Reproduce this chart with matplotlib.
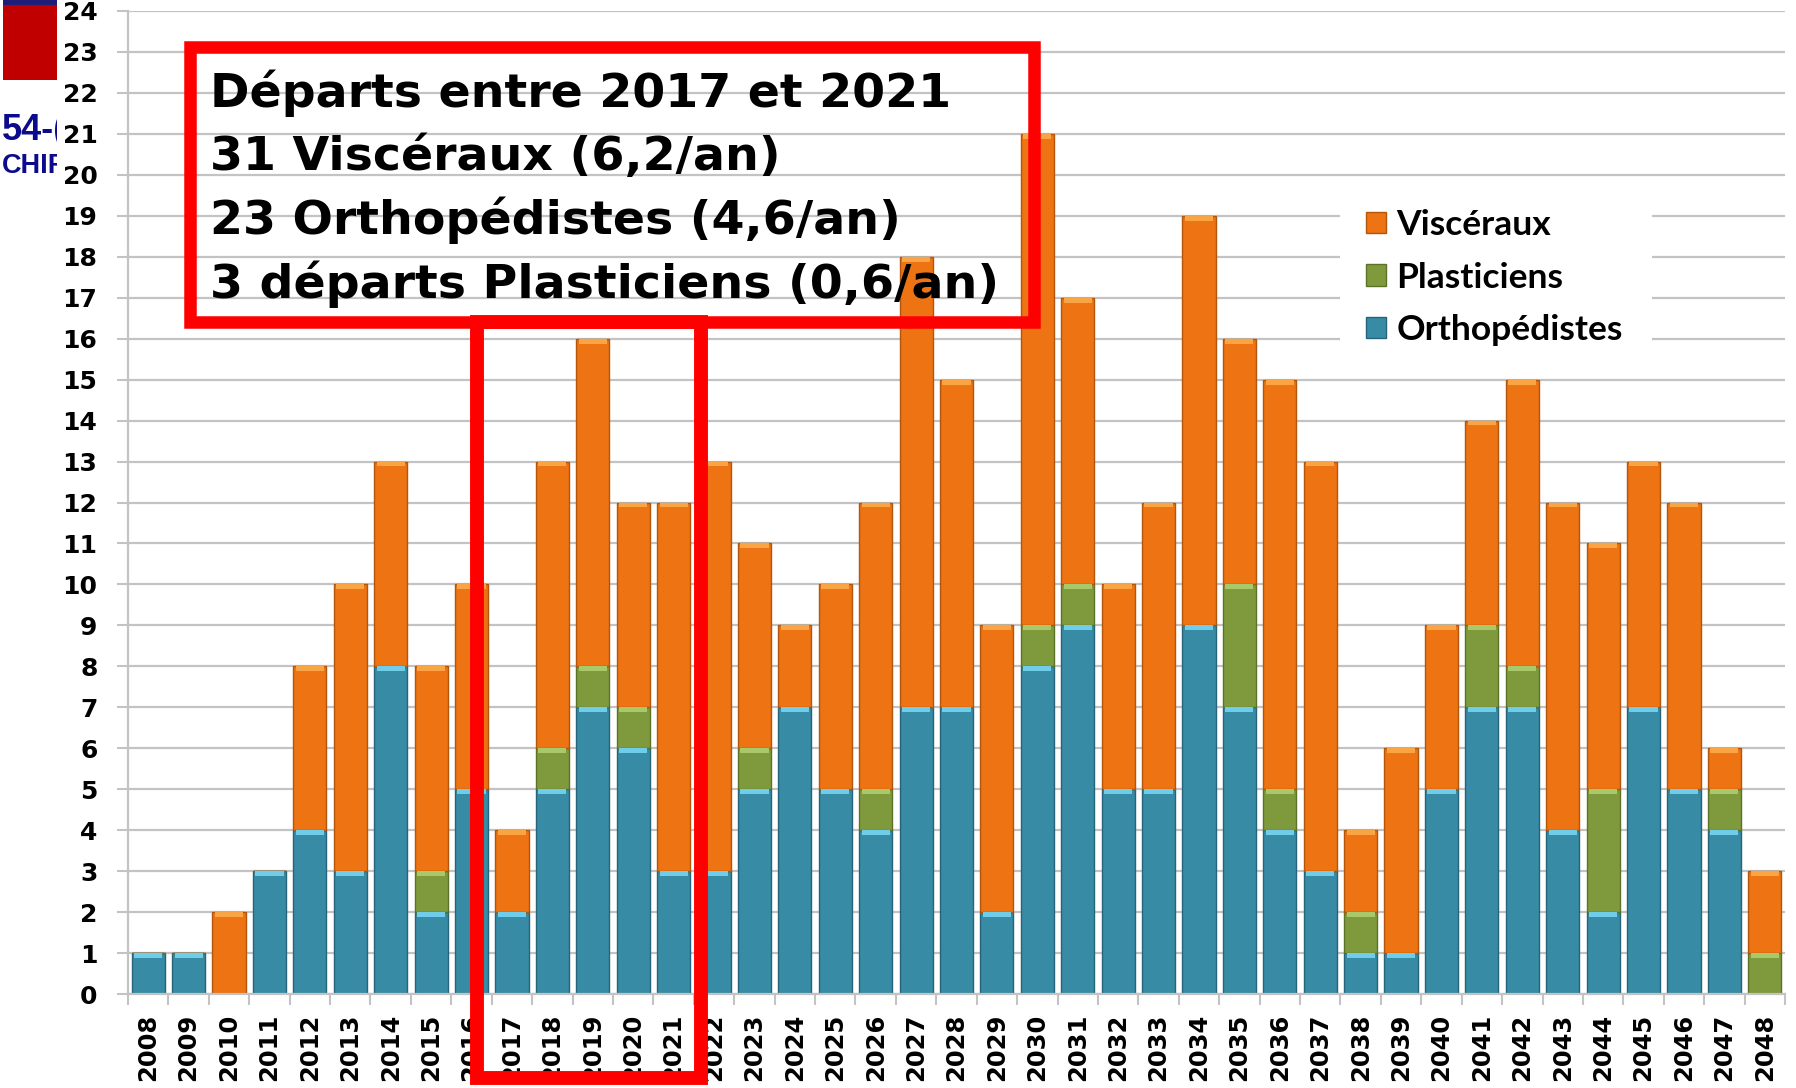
import matplotlib
matplotlib.use("Agg")
import matplotlib.pyplot as plt
from matplotlib.patches import Rectangle, Patch
from matplotlib.transforms import Bbox
import numpy as np

# ---------------- data ----------------
years = [str(y) for y in range(2008, 2049)]
orthopedistes = [1, 1, 0, 3, 4, 3, 8, 2, 5, 2, 5, 7, 6, 3, 3, 5, 7, 5, 4, 7, 7,
                 2, 8, 9, 5, 5, 9, 7, 4, 3, 1, 1, 5, 7, 7, 4, 2, 7, 5, 4, 0]
plasticiens = [0, 0, 0, 0, 0, 0, 0, 1, 0, 0, 1, 1, 1, 0, 0, 1, 0, 0, 1, 0, 0,
               0, 1, 1, 0, 0, 0, 3, 1, 0, 1, 0, 0, 2, 1, 0, 3, 0, 0, 1, 1]
visceraux = [0, 0, 2, 0, 4, 7, 5, 5, 5, 2, 7, 8, 5, 9, 10, 5, 2, 5, 7, 11, 8,
             7, 12, 7, 5, 7, 10, 6, 10, 10, 2, 5, 4, 5, 7, 8, 6, 6, 7, 1, 2]
series_names = ["Viscéraux", "Plasticiens", "Orthopédistes"]
y_ticks = list(range(0, 25))
annotation_lines = ["Départs entre 2017 et 2021",
                    "31 Viscéraux (6,2/an)",
                    "23 Orthopédistes (4,6/an)",
                    "3 départs Plasticiens (0,6/an)"]

# ---------------- style ----------------
W, H = 1796, 1088
C_ORTHO, C_ORTHO_E, C_ORTHO_CAP = "#388BA5", "#25647A", "#6FCDEA"
C_PLAST, C_PLAST_E, C_PLAST_CAP = "#7E9A3C", "#5B7228", "#A9C86A"
C_VISC, C_VISC_E, C_VISC_CAP = "#EE7313", "#B3560B", "#F9A445"
GRID = "#C3C3C3"
RED = "#FF0000"


def fx(px):
    return px / W


def fy(py):
    return 1 - py / H


fig = plt.figure(figsize=(W / 100, H / 100), dpi=100)
fig.patch.set_facecolor("white")

ax_left, ax_right, ax_top, ax_bottom = 128, 1785, 11, 994
ax = fig.add_axes([fx(ax_left), fy(ax_bottom), (ax_right - ax_left) / W,
                   (ax_bottom - ax_top) / H])
ax.set_axisbelow(True)

x = np.arange(len(years))
o = np.array(orthopedistes, dtype=float)
p = np.array(plasticiens, dtype=float)
v = np.array(visceraux, dtype=float)
bw = 0.82
cap = 0.12

segments = [
    (o, np.zeros_like(o), C_ORTHO, C_ORTHO_E, C_ORTHO_CAP, series_names[2]),
    (p, o, C_PLAST, C_PLAST_E, C_PLAST_CAP, series_names[1]),
    (v, o + p, C_VISC, C_VISC_E, C_VISC_CAP, series_names[0]),
]
for vals, base, col, ecol, capcol, name in segments:
    ax.bar(x, vals, bw, bottom=base, color=col, edgecolor=ecol, linewidth=1.0,
           zorder=2)
    mask = vals > 0
    ax.bar(x[mask], np.full(mask.sum(), cap), bw * 0.85,
           bottom=(base + vals)[mask] - cap, color=capcol, linewidth=0,
           zorder=2.5)

ax.set_xlim(-0.5, len(years) - 0.5)
ax.set_ylim(0, 24)

# grid and ticks
ax.yaxis.grid(True, color=GRID, linewidth=1.6)
ax.set_yticks(y_ticks)
ax.set_yticklabels([str(t) for t in y_ticks], fontsize=18, fontweight="bold",
                   family="DejaVu Sans")
ax.tick_params(axis="y", length=8, width=1.5, color=GRID, pad=14)
ax.set_xticks(x)
ax.set_xticklabels(years, rotation=90, fontsize=17.5, fontweight="bold",
                   family="DejaVu Sans")
ax.set_xticks(np.arange(-0.5, len(years), 1.0), minor=True)
ax.tick_params(axis="x", which="major", length=0, pad=14)
ax.tick_params(axis="x", which="minor", length=8, width=1.5, color=GRID)
for s in ["top", "right"]:
    ax.spines[s].set_visible(False)
for s in ["left", "bottom"]:
    ax.spines[s].set_color(GRID)
    ax.spines[s].set_linewidth(1.6)

# white area behind legend
ax.add_patch(Rectangle((fx(1340), fy(354)), fx(1652) - fx(1340),
                       fy(196) - fy(354), transform=fig.transFigure,
                       facecolor="white", edgecolor="none", zorder=1))

handles = [Patch(facecolor=C_VISC, edgecolor=C_VISC_E, linewidth=1),
           Patch(facecolor=C_PLAST, edgecolor=C_PLAST_E, linewidth=1),
           Patch(facecolor=C_ORTHO, edgecolor=C_ORTHO_E, linewidth=1)]
leg = ax.legend(handles, series_names, loc="upper left",
                bbox_to_anchor=(fx(1366), fy(209)),
                bbox_transform=fig.transFigure, frameon=False,
                prop={"family": "Lato", "weight": "bold", "size": 25.5},
                handlelength=0.56, handleheight=0.56, handletextpad=0.3,
                labelspacing=0.58, borderpad=0, borderaxespad=0)
leg.set_zorder(6)

# annotation box and text
fig.add_artist(Rectangle((fx(190), fy(322)), fx(1034) - fx(190),
                         fy(47) - fy(322), transform=fig.transFigure,
                         fill=False, edgecolor=RED, linewidth=9, zorder=10))
fig.add_artist(Rectangle((fx(477), fy(1078)), fx(701) - fx(477),
                         fy(322) - fy(1078), transform=fig.transFigure,
                         fill=False, edgecolor=RED, linewidth=10, zorder=10))
baselines = [107, 170, 234, 298]
for line, b in zip(annotation_lines, baselines):
    fig.text(fx(210), fy(b), line, fontsize=34.2, fontweight="bold",
             family="DejaVu Sans", ha="left", va="baseline", zorder=11)

# cropped fragments at top-left corner
fig.add_artist(Rectangle((fx(3), fy(80)), fx(57) - fx(3), fy(5) - fy(80),
                         transform=fig.transFigure, facecolor="#C00000",
                         edgecolor="none", zorder=3))
fig.add_artist(Rectangle((fx(3), fy(5)), fx(57) - fx(3), fy(0) - fy(5),
                         transform=fig.transFigure, facecolor="#1E1E78",
                         edgecolor="none", zorder=3))
clip = Bbox([[0, 0], [57, H]])
t1 = fig.text(fx(2), fy(140), "54-(", fontsize=26, fontweight="bold",
              family="Liberation Sans", color="#0B0B8C", va="baseline")
t2 = fig.text(fx(2), fy(173), "CHIR", fontsize=19.5, fontweight="bold",
              family="Liberation Sans", color="#0B0B8C", va="baseline")
for t in (t1, t2):
    t.set_clip_box(clip)
    t.set_clip_on(True)

fig.savefig("out.png", dpi=100, facecolor="white")
